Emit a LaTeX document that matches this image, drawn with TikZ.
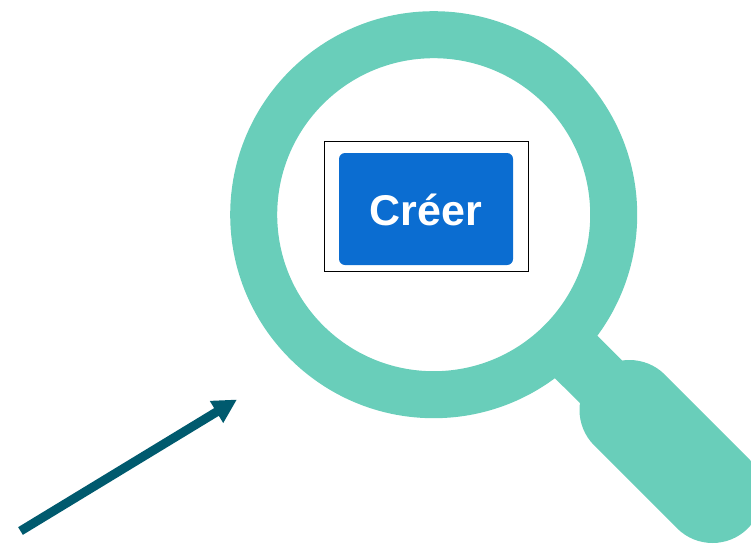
\documentclass[tikz,border=0pt]{standalone}
\usepackage{fontspec}
\setmainfont{Liberation Sans}
\usetikzlibrary{arrows.meta}
\definecolor{loupe}{HTML}{69CEBA}
\definecolor{pointer}{HTML}{005A6E}
\definecolor{bouton}{HTML}{0B6DD1}
\begin{document}
\begin{tikzpicture}[x=1pt, y=-1pt,
frame/.style = {rectangle, draw=black, line width=0.8pt, minimum width=204pt, minimum height=130pt, inner sep=0pt, outer sep=0pt},
button/.style = {rectangle, fill=bouton, rounded corners=6pt, minimum width=174pt, minimum height=112pt, inner sep=0pt, outer sep=0pt},
caption/.style = {text=white, font=\fontsize{43}{43}\selectfont\bfseries, inner sep=0pt}]
\useasboundingbox (0,0) rectangle (751,543);
\clip (0,0) rectangle (751,543);
% loupe
\draw[loupe, line width=47pt] (433.7,214.7) circle [radius=180];
\coordinate (neck) at (561,342);
\coordinate (grip1) at (629.5,410);
\coordinate (grip2) at (712.5,493);
\draw[loupe, line width=60pt] (neck) -- (grip1);
\draw[loupe, line width=100pt, line cap=round] (grip1) -- (grip2);
% screenshot
\node[frame] at (426,206) (fr) {};
\node[button] at (426,209) (btn) {};
\node[caption, anchor=base] at (426,225) (lbl) {Créer};
% arrow
\coordinate (a1) at (20.5,531);
\coordinate (a2) at (237,399.5);
\draw[-{Triangle[length=24pt,width=24pt]}, pointer, line width=9pt] (a1) -- (a2);
\end{tikzpicture}
\end{document}
